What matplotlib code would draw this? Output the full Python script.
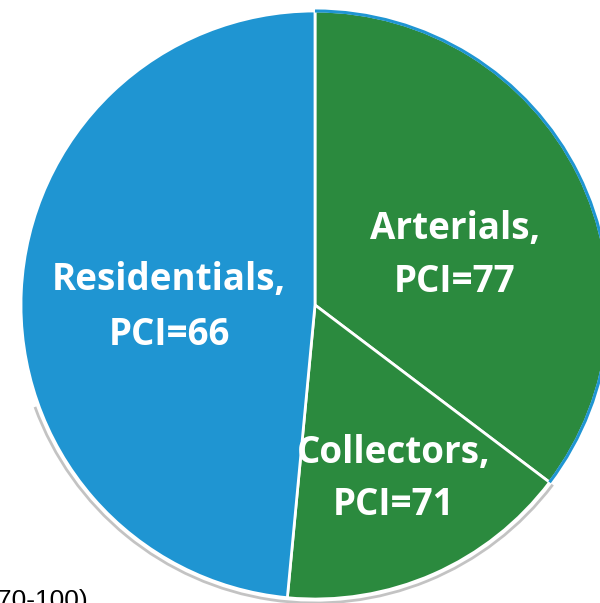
import matplotlib.pyplot as plt
from matplotlib.patches import Arc

# Data (shares of the network)
categories = ['Arterials', 'Collectors', 'Residentials']
shares = [35.3, 16.2, 48.5]
pci = [77, 71, 66]
colors = ['#2b8a3e', '#2b8a3e', '#1f95d2']
footnote = '(70-100)'

W, H = 600, 603
fig = plt.figure(figsize=(W / 100, H / 100), dpi=100)
ax = fig.add_axes([0, 0, 1, 1])

cx, cy, r = 315, H - 305, 294

wedges, _ = ax.pie(shares, colors=colors, startangle=90, counterclock=False,
                   center=(cx, cy), radius=r,
                   wedgeprops=dict(edgecolor='white', linewidth=2.0))

# thin blue rim on the arterials arc (scan misregistration) and a soft shadow below
end_art = 90 - 360 * shares[0] / 100
ax.add_patch(Arc((cx, cy), 2 * r, 2 * r, theta1=end_art, theta2=90,
                 color='#1f95d2', lw=2.2))
ax.add_patch(Arc((cx, cy), 2 * r + 8, 2 * r + 8, theta1=200, theta2=end_art + 360,
                 color='#b5b5b5', lw=2.0, alpha=0.8))

ax.set_xlim(0, W)
ax.set_ylim(0, H)
ax.set_aspect('equal')
ax.axis('off')

# label lines: (x centre, baseline y of each line in pixels from top)
label_pos = {'Arterials': (455, 239, 292),
             'Collectors': (394, 463, 515),
             'Residentials': (169, 290, 345)}
font = dict(family=['Open Sans', 'DejaVu Sans'], weight='bold', color='white', fontsize=26.5,
            ha='center', va='baseline')
for name, val in zip(categories, pci):
    x, y1, y2 = label_pos[name]
    ax.text(x, H - y1, name + ',', **font)
    ax.text(x, H - y2, 'PCI=%d' % val, **font)

ax.text(-12, H - 608, footnote, fontsize=19, family=['Liberation Sans', 'DejaVu Sans'],
        color='black', ha='left', va='baseline', clip_on=False)

fig.savefig('out.png', dpi=100, facecolor='white')
